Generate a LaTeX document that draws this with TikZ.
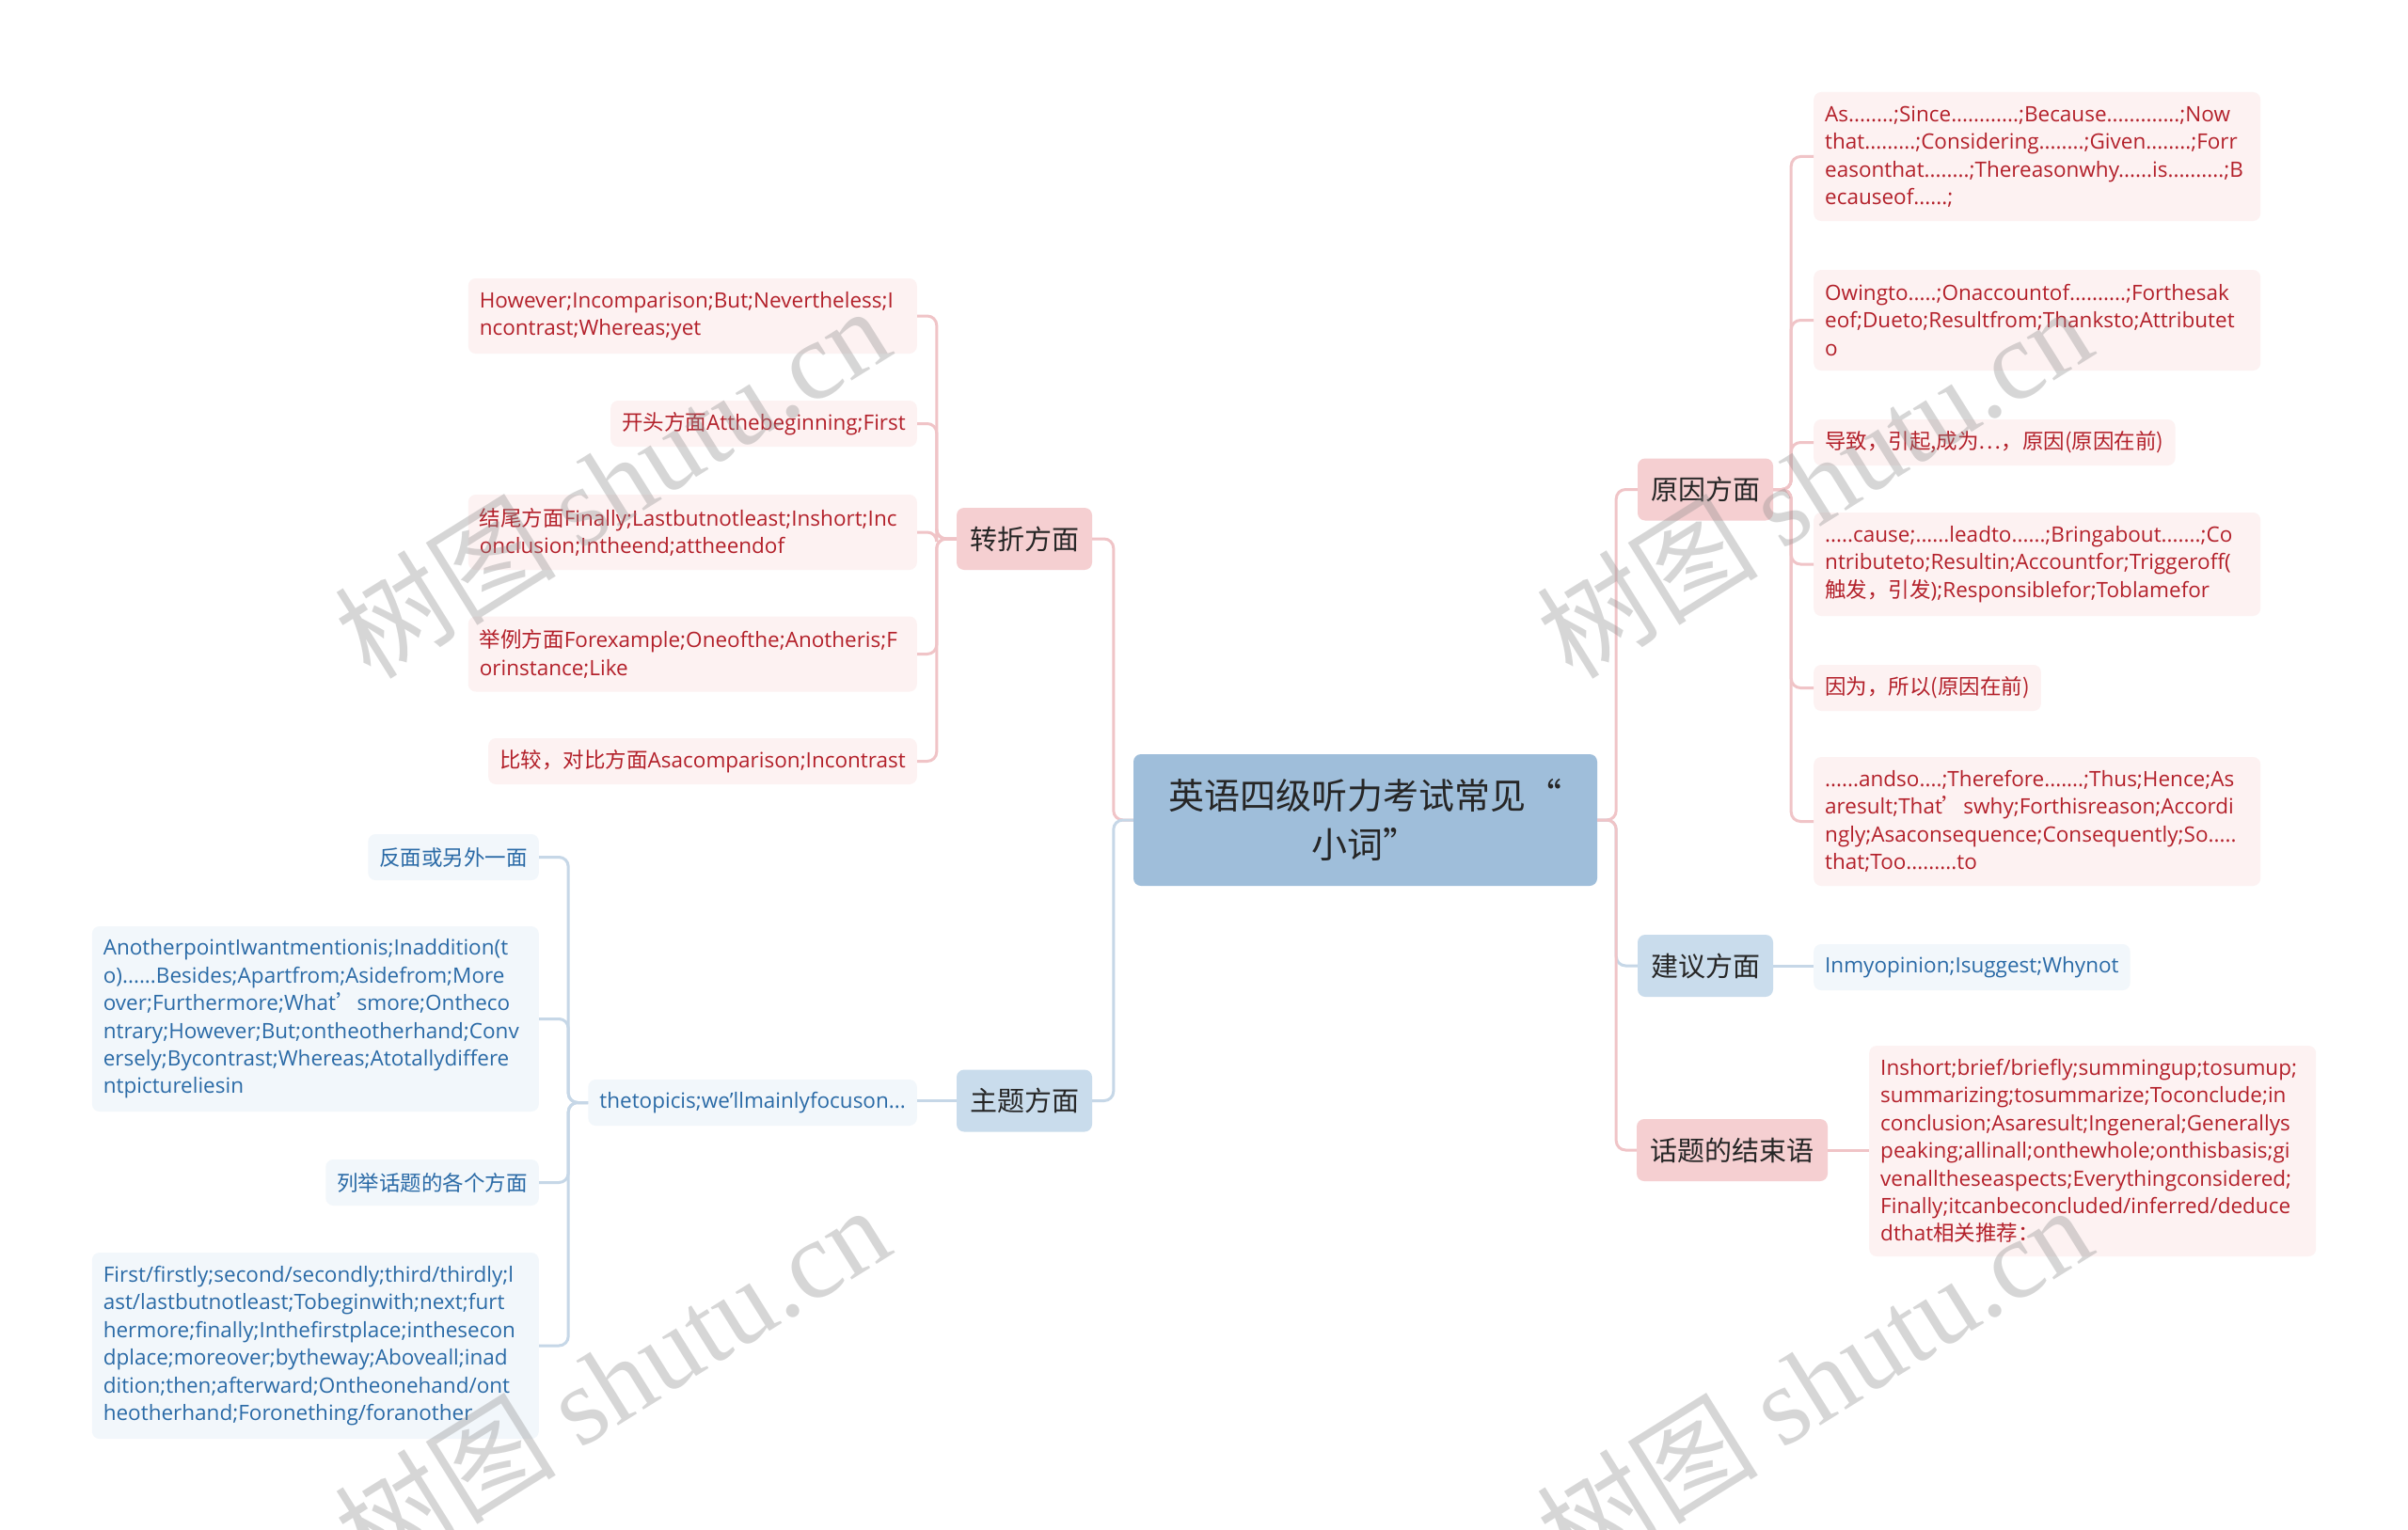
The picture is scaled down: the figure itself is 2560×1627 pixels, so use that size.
\documentclass[tikz,border=0pt]{standalone}
\usepackage{fontspec}
\setmainfont{Open Sans}
\newfontfamily\cjk{Noto Sans CJK SC}
\newfontfamily\wmserif{Liberation Serif}
\definecolor{pinkfill}{HTML}{F5CFD1}
\definecolor{bluefill}{HTML}{C9DCEC}
\definecolor{rootfill}{HTML}{9FBEDA}
\definecolor{pleaf}{HTML}{FDF2F2}
\definecolor{bleaf}{HTML}{F2F7FB}
\definecolor{ptext}{HTML}{B3202A}
\definecolor{btext}{HTML}{2A6AA6}
\definecolor{pline}{HTML}{F0C4C7}
\definecolor{bline}{HTML}{C6D7E7}
\definecolor{dark}{HTML}{262626}
\newcommand\leaffont{\fontsize{22.5}{29.4}\selectfont}
\tikzset{
  rootbox/.style={fill=rootfill, rounded corners=8pt, text=dark, align=center,
    minimum width=493pt, minimum height=140pt, inner sep=0pt,
    font=\cjk\fontsize{38}{52}\selectfont},
  branchP/.style={fill=pinkfill, rounded corners=8pt, text=dark, inner sep=0pt,
    minimum height=66pt, minimum width=144pt, font=\cjk\fontsize{29}{34}\selectfont},
  branchB/.style={branchP, fill=bluefill},
  leafP/.style={fill=pleaf, text=ptext, rounded corners=8pt, inner xsep=12pt, inner ysep=0pt,
    align=left, font=\leaffont},
  leafB/.style={leafP, fill=bleaf, text=btext},
  pconn/.style={draw=pline, line width=3pt, rounded corners=10pt},
  bconn/.style={draw=bline, line width=3pt, rounded corners=10pt},
  wmark/.style={text=black!45, opacity=0.35, rotate=32, inner sep=0pt}
}
\begin{document}
\begin{tikzpicture}[x=1pt,y=-1pt]
\useasboundingbox (0,0) rectangle (2560,1627);
\fill[white] (0,0) rectangle (2560,1627);

% root and branches
\node[rootbox] (root) at (1451.5,872) {英语四级听力考试常见“\\小词”};
\node[branchP] (zz) at (1089,573) {转折方面};
\node[branchB] (zt) at (1089,1170.5) {主题方面};
\node[branchP] (yy) at (1813,520.5) {原因方面};
\node[branchB] (jy) at (1813,1027) {建议方面};
\node[branchP, minimum width=203pt] (js) at (1841.5,1223) {话题的结束语};

% right leaves (原因方面)
\node[leafP, anchor=west, text width=451pt, minimum height=137pt] (r1) at (1928,166.5)
 {As........;Since............;Because.............;Now\\that.........;Considering........;Given........;Forr\\easonthat........;Thereasonwhy......is..........;B\\ecauseof......;};
\node[leafP, anchor=west, text width=451pt, minimum height=107pt] (r2) at (1928,340.5)
 {Owingto.....;Onaccountof..........;Forthesak\\eof;Dueto;Resultfrom;Thanksto;Attributet\\o};
\node[leafP, anchor=west, minimum height=49pt] (r3) at (1928,470.5)
 {\cjk 导致，引起,成为…，原因(原因在前)};
\node[leafP, anchor=west, text width=451pt, minimum height=110pt] (r4) at (1928,600)
 {.....cause;......leadto......;Bringabout.......;Co\\ntributeto;Resultin;Accountfor;Triggeroff(\\{\cjk 触发，引发});Responsiblefor;Toblamefor};
\node[leafP, anchor=west, minimum height=49pt] (r5) at (1928,731.5)
 {\cjk 因为，所以(原因在前)};
\node[leafP, anchor=west, text width=451pt, minimum height=137pt] (r6) at (1928,873.5)
 {......andso....;Therefore.......;Thus;Hence;As\\aresult;That{\cjk ’}swhy;Forthisreason;Accordi\\ngly;Asaconsequence;Consequently;So.....\\that;Too.........to};

% 建议 leaf
\node[leafB, anchor=west, minimum height=49pt] (j1) at (1928,1028.5)
 {Inmyopinion;Isuggest;Whynot};

% 结束语 leaf
\node[leafP, anchor=west, text width=451pt, minimum height=224pt] (e1) at (1987,1224)
 {Inshort;brief/briefly;summingup;tosumup;\\summarizing;tosummarize;Toconclude;in\\conclusion;Asaresult;Ingeneral;Generallys\\peaking;allinall;onthewhole;onthisbasis;gi\\venalltheseaspects;Everythingconsidered;\\Finally;itcanbeconcluded/inferred/deduce\\dthat{\cjk 相关推荐：}};

% 转折 leaves
\node[leafP, anchor=east, text width=453pt, minimum height=80pt] (l1) at (975,336)
 {However;Incomparison;But;Nevertheless;I\\ncontrast;Whereas;yet};
\node[leafP, anchor=east, minimum height=49pt] (l2) at (975,450.5)
 {{\cjk 开头方面}Atthebeginning;First};
\node[leafP, anchor=east, text width=453pt, minimum height=80pt] (l3) at (975,566)
 {{\cjk 结尾方面}Finally;Lastbutnotleast;Inshort;Inc\\onclusion;Intheend;attheendof};
\node[leafP, anchor=east, text width=453pt, minimum height=80pt] (l4) at (975,695.5)
 {{\cjk 举例方面}Forexample;Oneofthe;Anotheris;F\\orinstance;Like};
\node[leafP, anchor=east, minimum height=49pt] (l5) at (975,809.5)
 {{\cjk 比较，对比方面}Asacomparison;Incontrast};

% 主题 leaves
\node[leafB, anchor=east, minimum height=49pt] (t1) at (975,1172.5)
 {thetopicis;we'llmainlyfocuson...};
\node[leafB, anchor=east, minimum height=49pt] (b1) at (573,911.5)
 {\cjk 反面或另外一面};
\node[leafB, anchor=east, text width=451pt, minimum height=197pt] (b2) at (573,1083.5)
 {AnotherpointIwantmentionis;Inaddition(t\\o)......Besides;Apartfrom;Asidefrom;More\\over;Furthermore;What{\cjk ’}smore;Ontheco\\ntrary;However;But;ontheotherhand;Conv\\ersely;Bycontrast;Whereas;Atotallydiffere\\ntpictureliesin};
\node[leafB, anchor=east, minimum height=49pt] (b3) at (573,1257.5)
 {\cjk 列举话题的各个方面};
\node[leafB, anchor=east, text width=451pt, minimum height=198pt] (b4) at (573,1431)
 {First/firstly;second/secondly;third/thirdly;l\\ast/lastbutnotleast;Tobeginwith;next;furt\\hermore;finally;Inthefirstplace;inthesecon\\dplace;moreover;bytheway;Aboveall;inad\\dition;then;afterward;Ontheonehand/ont\\heotherhand;Foronething/foranother};

% connectors root -> branches
\draw[pconn] (root.west) -- ++(-21,0) |- (zz.east);
\draw[bconn] (root.west) -- ++(-21,0) |- (zt.east);
\draw[pconn] (root.east) -- ++(20,0) |- (yy.west);
\draw[bconn] (root.east) -- ++(20,0) |- (jy.west);
\draw[pconn] (root.east) -- ++(20,0) |- (js.west);

% 转折
\foreach \n in {l1,l2,l3,l4,l5}
  \draw[pconn] (zz.west) -- ++(-21,0) |- (\n.east);
% 原因
\foreach \n in {r1,r2,r3,r4,r5,r6}
  \draw[pconn] (yy.east) -- ++(19,0) |- (\n.west);
% 建议, 结束语
\draw[bconn] (jy.east) -- (jy.east -| j1.west);
\draw[pconn] (js.east) -- (js.east -| e1.west);
% 主题
\draw[bconn] (zt.west) -- (zt.west -| t1.east);
\foreach \n in {b1,b2,b3,b4}
  \draw[bconn] (t1.west) -- ++(-21,0) |- (\n.east);

% watermarks
\node[wmark] (w1) at (650,512) {\cjk\fontsize{118}{118}\selectfont 树图 \wmserif shutu.cn};
\node[wmark] (w2) at (1928,512) {\cjk\fontsize{118}{118}\selectfont 树图 \wmserif shutu.cn};
\node[wmark] (w3) at (650,1468) {\cjk\fontsize{118}{118}\selectfont 树图 \wmserif shutu.cn};
\node[wmark] (w4) at (1928,1468) {\cjk\fontsize{118}{118}\selectfont 树图 \wmserif shutu.cn};
\end{tikzpicture}
\end{document}
